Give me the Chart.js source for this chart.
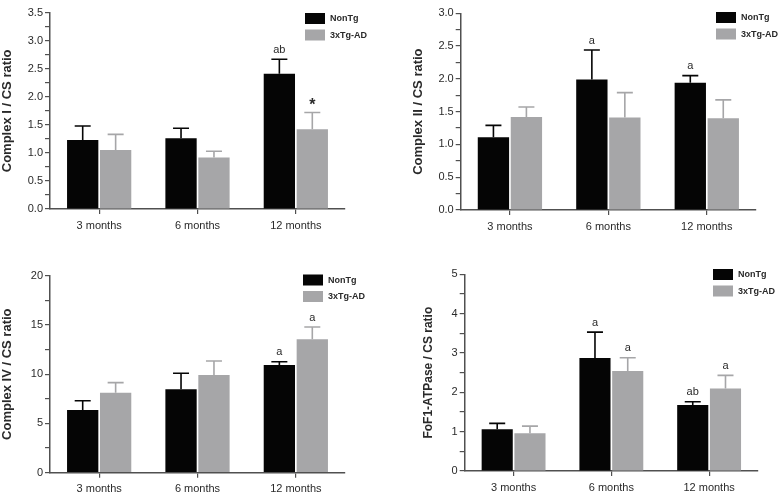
<!DOCTYPE html>
<html>
<head>
<meta charset="utf-8">
<script src="https://cdn.jsdelivr.net/npm/chart.js@4.4.0/dist/chart.umd.min.js"></script>
<style>
    body { margin: 0; background: #fff; }
    #wrap { position: relative; width: 778px; height: 494px; overflow: hidden; }
    canvas { position: absolute; }
</style>
</head>
<body>
<div id="wrap">
    <canvas id="c1" width="388" height="245" style="left:0;top:0"></canvas>
    <canvas id="c2" width="390" height="245" style="left:388px;top:0"></canvas>
    <canvas id="c3" width="388" height="249" style="left:0;top:245px"></canvas>
    <canvas id="c4" width="390" height="249" style="left:388px;top:245px"></canvas>
</div>
<script>
// data
var categories = ["3 months", "6 months", "12 months"];
var seriesNames = ["NonTg", "3xTg-AD"];

var c1NonTg = [1.23, 1.26, 2.41];
var c1NonTgErr = [0.25, 0.18, 0.26];
var c1Tg = [1.05, 0.92, 1.42];
var c1TgErr = [0.28, 0.11, 0.30];
var c1NonTgMarks = ["", "", "ab"];
var c1TgMarks = ["", "", "*"];

var c2NonTg = [1.11, 1.99, 1.94];
var c2NonTgErr = [0.18, 0.45, 0.11];
var c2Tg = [1.42, 1.41, 1.40];
var c2TgErr = [0.15, 0.38, 0.28];
var c2NonTgMarks = ["", "a", "a"];
var c2TgMarks = ["", "", ""];

var c3NonTg = [6.37, 8.47, 10.93];
var c3NonTgErr = [0.94, 1.62, 0.34];
var c3Tg = [8.12, 9.92, 13.54];
var c3TgErr = [1.02, 1.42, 1.25];
var c3NonTgMarks = ["", "", "a"];
var c3TgMarks = ["", "", "a"];

var c4NonTg = [1.06, 2.87, 1.68];
var c4NonTgErr = [0.15, 0.66, 0.08];
var c4Tg = [0.96, 2.54, 2.10];
var c4TgErr = [0.18, 0.34, 0.33];
var c4NonTgMarks = ["", "a", "ab"];
var c4TgMarks = ["", "a", "a"];

var BLACK = "#050505";
var GRAY = "#a6a6a8";
var AXIS = "#505050";
var TEXT = "#2a2a2a";
var FONT = "Liberation Sans, Arial, sans-serif";

// error bars, letters and the little legend
var extrasPlugin = {
    id: "extras",
    afterDatasetsDraw: function(chart) {
        var opts = chart.options.plugins.extras;
        var ctx = chart.ctx;
        var yScale = chart.scales.y;

        chart.data.datasets.forEach(function(ds, i) {
            var meta = chart.getDatasetMeta(i);

            meta.data.forEach(function(bar, j) {
                var top = yScale.getPixelForValue(ds.data[j] + opts.errs[i][j]);
                var mark = opts.marks[i][j];

                ctx.save();
                ctx.strokeStyle = ds.backgroundColor;
                ctx.lineWidth = 1.6;
                ctx.beginPath();
                ctx.moveTo(bar.x, bar.y);
                ctx.lineTo(bar.x, top);
                ctx.moveTo(bar.x - 8, top);
                ctx.lineTo(bar.x + 8, top);
                ctx.stroke();

                if (mark) {
                    ctx.fillStyle = TEXT;
                    ctx.textAlign = "center";
                    if (mark === "*") {
                        // the star sits a bit lower and is drawn bigger
                        ctx.font = "bold 16px " + FONT;
                        ctx.textBaseline = "middle";
                        ctx.fillText(mark, bar.x, top - 7);
                    } else {
                        ctx.font = "11px " + FONT;
                        ctx.textBaseline = "bottom";
                        ctx.fillText(mark, bar.x, top - 4);
                    }
                }
                ctx.restore();
            });
        });
    },
    afterDraw: function(chart) {
        var opts = chart.options.plugins.extras;
        var ctx = chart.ctx;
        var lx = opts.legend[0];
        var ly = opts.legend[1];

        ctx.save();
        chart.data.datasets.forEach(function(ds, i) {
            var y = ly + i * 16.5;
            ctx.fillStyle = ds.backgroundColor;
            ctx.fillRect(lx, y, 20, 11);
            ctx.fillStyle = TEXT;
            ctx.font = "bold 9px " + FONT;
            ctx.textAlign = "left";
            ctx.textBaseline = "middle";
            ctx.fillText(ds.label, lx + 25, y + 6);
        });
        ctx.restore();
    }
};

function makePanel(id, p) {
    var canvas = document.getElementById(id);
    var w = canvas.width, h = canvas.height;

    return new Chart(canvas, {
        type: "bar",
        data: {
            labels: categories,
            datasets: [
                { label: seriesNames[0], data: p.a, backgroundColor: BLACK },
                { label: seriesNames[1], data: p.b, backgroundColor: GRAY }
            ]
        },
        options: {
            responsive: false,
            animation: false,
            devicePixelRatio: 1,
            categoryPercentage: 0.67,
            barPercentage: 0.95,
            layout: {
                padding: { left: p.padLeft, top: p.area[1], right: w - p.area[2], bottom: 0 }
            },
            plugins: {
                legend: { display: false },
                tooltip: { enabled: false },
                extras: { errs: [p.aErr, p.bErr], marks: [p.aMarks, p.bMarks], legend: p.legend }
            },
            scales: {
                x: {
                    afterFit: function(s) { s.height = h - p.area[3]; },
                    grid: { display: true, drawOnChartArea: false, offset: false, tickLength: 5, color: AXIS, lineWidth: 1.2 },
                    border: { display: true, color: AXIS, width: 1.5 },
                    ticks: { color: TEXT, font: { family: FONT, size: 11 }, padding: 5 }
                },
                y: {
                    min: 0,
                    max: p.max,
                    afterFit: function(s) { s.width = p.area[0] - p.padLeft; },
                    grid: { display: true, drawOnChartArea: false, tickLength: 5, color: AXIS, lineWidth: 1.2 },
                    border: { display: true, color: AXIS, width: 1.5 },
                    ticks: {
                        stepSize: p.step / 2,
                        autoSkip: false,
                        color: TEXT,
                        padding: 2,
                        font: { family: FONT, size: 11 },
                        callback: function(v) {
                            var k = v / p.step;
                            if (Math.abs(k - Math.round(k)) > 1e-6) return "";
                            return v.toFixed(p.digits);
                        }
                    },
                    title: {
                        display: true,
                        text: p.title,
                        color: TEXT,
                        padding: 0,
                        font: { family: FONT, size: p.titleSize, weight: "bold", lineHeight: 1.2 }
                    }
                }
            }
        },
        plugins: [extrasPlugin]
    });
}

makePanel("c1", {
    a: c1NonTg, aErr: c1NonTgErr, aMarks: c1NonTgMarks,
    b: c1Tg, bErr: c1TgErr, bMarks: c1TgMarks,
    max: 3.5, step: 0.5, digits: 1,
    title: "Complex I / CS ratio", titleSize: 13,
    padLeft: 0, area: [50, 12.7, 345, 209],
    legend: [305, 13]
});

makePanel("c2", {
    a: c2NonTg, aErr: c2NonTgErr, aMarks: c2NonTgMarks,
    b: c2Tg, bErr: c2TgErr, bMarks: c2TgMarks,
    max: 3.0, step: 0.5, digits: 1,
    title: "Complex II / CS ratio", titleSize: 13,
    padLeft: 23, area: [72.7, 13.3, 368, 210],
    legend: [328, 12]
});

makePanel("c3", {
    a: c3NonTg, aErr: c3NonTgErr, aMarks: c3NonTgMarks,
    b: c3Tg, bErr: c3TgErr, bMarks: c3TgMarks,
    max: 20, step: 5, digits: 0,
    title: "Complex IV / CS ratio", titleSize: 13,
    padLeft: 0, area: [50, 30.7, 345, 227.7],
    legend: [303, 29.5]
});

makePanel("c4", {
    a: c4NonTg, aErr: c4NonTgErr, aMarks: c4NonTgMarks,
    b: c4Tg, bErr: c4TgErr, bMarks: c4TgMarks,
    max: 5, step: 1, digits: 0,
    title: "FoF1-ATPase / CS ratio", titleSize: 12,
    padLeft: 33, area: [76.7, 29.3, 370, 226],
    legend: [325, 24]
});
</script>
</body>
</html>
